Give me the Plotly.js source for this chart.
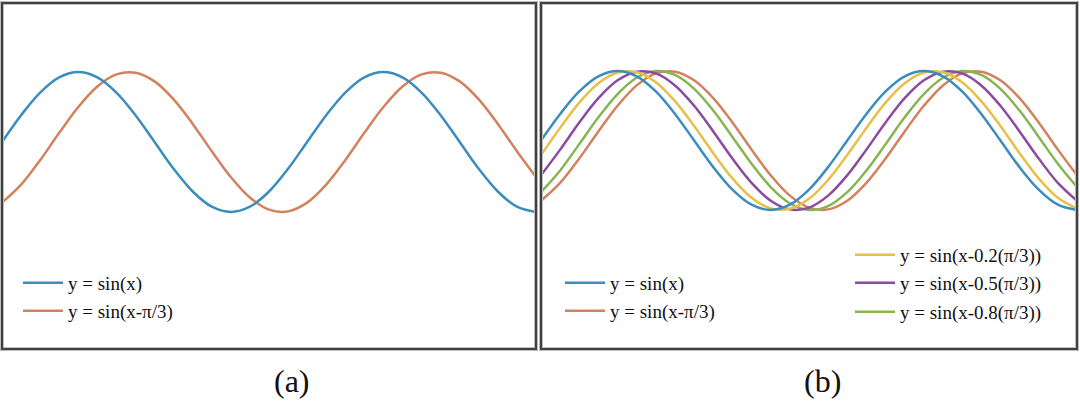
<!DOCTYPE html>
<html>
<head>
<meta charset="utf-8">
<script src="https://cdn.plot.ly/plotly-3.0.1.min.js"></script>
<style>html,body{margin:0;padding:0;background:#fff;}#chart{width:1080px;height:418px;}</style>
</head>
<body>
<div id="chart"></div>
<script>
// x samples (radians), step pi/8 from 0 to 3.5*pi
const xVals = [0, 0.393, 0.785, 1.178, 1.571, 1.963, 2.356, 2.749, 3.142, 3.534, 3.927, 4.320, 4.712, 5.105, 5.498, 5.890, 6.283, 6.676, 7.069, 7.461, 7.854, 8.247, 8.639, 9.032, 9.425, 9.817, 10.210, 10.603, 10.996];
// y = sin(x)
const ySin = [0, 0.383, 0.707, 0.924, 1, 0.924, 0.707, 0.383, 0, -0.383, -0.707, -0.924, -1, -0.924, -0.707, -0.383, 0, 0.383, 0.707, 0.924, 1, 0.924, 0.707, 0.383, 0, -0.383, -0.707, -0.924, -1];
// y = sin(x - pi/3)
const ySinPi3 = [-0.866, -0.609, -0.259, 0.131, 0.5, 0.793, 0.966, 0.991, 0.866, 0.609, 0.259, -0.131, -0.5, -0.793, -0.966, -0.991, -0.866, -0.609, -0.259, 0.131, 0.5, 0.793, 0.966, 0.991, 0.866, 0.609, 0.259, -0.131, -0.5];
// y = sin(x - 0.2(pi/3))
const ySin02 = [-0.208, 0.182, 0.545, 0.824, 0.978, 0.983, 0.839, 0.566, 0.208, -0.182, -0.545, -0.824, -0.978, -0.983, -0.839, -0.566, -0.208, 0.182, 0.545, 0.824, 0.978, 0.983, 0.839, 0.566, 0.208, -0.182, -0.545, -0.824, -0.978];
// y = sin(x - 0.5(pi/3))
const ySin05 = [-0.5, -0.131, 0.259, 0.609, 0.866, 0.991, 0.966, 0.793, 0.5, 0.131, -0.259, -0.609, -0.866, -0.991, -0.966, -0.793, -0.5, -0.131, 0.259, 0.609, 0.866, 0.991, 0.966, 0.793, 0.5, 0.131, -0.259, -0.609, -0.866];
// y = sin(x - 0.8(pi/3))
const ySin08 = [-0.743, -0.431, -0.052, 0.334, 0.669, 0.903, 0.999, 0.943, 0.743, 0.431, 0.052, -0.334, -0.669, -0.903, -0.999, -0.943, -0.743, -0.431, -0.052, 0.334, 0.669, 0.903, 0.999, 0.943, 0.743, 0.431, 0.052, -0.334, -0.669];

const seriesNames = ['y = sin(x)', 'y = sin(x-π/3)', 'y = sin(x-0.2(π/3))', 'y = sin(x-0.5(π/3))', 'y = sin(x-0.8(π/3))'];
const panelCaptions = ['(a)', '(b)'];

const W = 1080, H = 418;
const colBlue = '#3c8dbd', colOrange = '#d2825c', colYellow = '#e6c04a', colPurple = '#8b4b9f', colGreen = '#88b553';
const font = 'Liberation Serif, Times New Roman, serif';

function tr(y, name, color, xa, ya, leg) {
  return {x: xVals, y: y, name: name, type: 'scatter', mode: 'lines',
    line: {color: color, width: 2.5, shape: 'spline', smoothing: 1},
    xaxis: xa, yaxis: ya, legend: leg, hoverinfo: 'skip'};
}

// draw order in panel b: orange under, then green, purple, yellow, blue on top
const data = [
  tr(ySinPi3, seriesNames[1], colOrange, 'x', 'y', 'legend2'),
  tr(ySin, seriesNames[0], colBlue, 'x', 'y', 'legend'),
  tr(ySinPi3, seriesNames[1], colOrange, 'x2', 'y2', 'legend4'),
  tr(ySin08, seriesNames[4], colGreen, 'x2', 'y2', 'legend7'),
  tr(ySin05, seriesNames[3], colPurple, 'x2', 'y2', 'legend6'),
  tr(ySin02, seriesNames[2], colYellow, 'x2', 'y2', 'legend5'),
  tr(ySin, seriesNames[0], colBlue, 'x2', 'y2', 'legend3')
];

function leg(px, py) {
  return {x: px / W, y: 1 - py / H, xanchor: 'left', yanchor: 'middle',
    bgcolor: 'rgba(0,0,0,0)', borderwidth: 0, itemwidth: 40,
    font: {family: font, size: 19, color: '#111'}, itemclick: false, itemdoubleclick: false};
}

const hidden = {showgrid: false, zeroline: false, showticklabels: false, showline: false, ticks: '', fixedrange: true};

const layout = {
  width: W, height: H,
  margin: {l: 0, r: 0, t: 0, b: 0, pad: 0},
  paper_bgcolor: '#fff', plot_bgcolor: 'rgba(0,0,0,0)',
  showlegend: true,
  xaxis: Object.assign({}, hidden, {domain: [2 / W, 536 / W], range: [0, 10.996]}),
  yaxis: Object.assign({}, hidden, {domain: [0, 1], range: [-3.943, 2.029]}),
  xaxis2: Object.assign({}, hidden, {domain: [541 / W, 1077 / W], range: [0, 10.996], anchor: 'y2'}),
  yaxis2: Object.assign({}, hidden, {domain: [0, 1], range: [-3.993, 2.022], anchor: 'x2'}),
  legend: leg(18, 283),
  legend2: leg(18, 311),
  legend3: leg(560, 283),
  legend4: leg(560, 311),
  legend5: leg(850, 255),
  legend6: leg(850, 283),
  legend7: leg(850, 312),
  shapes: [
    {type: 'rect', xref: 'paper', yref: 'paper', x0: 2 / W, x1: 536 / W, y0: 1 - 349 / H, y1: 1 - 3 / H,
      line: {color: '#bdbdbd', width: 4}, layer: 'above'},
    {type: 'rect', xref: 'paper', yref: 'paper', x0: 2 / W, x1: 536 / W, y0: 1 - 349 / H, y1: 1 - 3 / H,
      line: {color: '#404040', width: 2}, layer: 'above'},
    {type: 'rect', xref: 'paper', yref: 'paper', x0: 541 / W, x1: 1077 / W, y0: 1 - 349 / H, y1: 1 - 3 / H,
      line: {color: '#bdbdbd', width: 4}, layer: 'above'},
    {type: 'rect', xref: 'paper', yref: 'paper', x0: 541 / W, x1: 1077 / W, y0: 1 - 349 / H, y1: 1 - 3 / H,
      line: {color: '#404040', width: 2}, layer: 'above'}
  ],
  annotations: [
    {text: panelCaptions[0], xref: 'paper', yref: 'paper', x: 292 / W, y: 1 - 381 / H, xanchor: 'center', yanchor: 'middle',
      showarrow: false, font: {family: font, size: 32, color: '#111'}},
    {text: panelCaptions[1], xref: 'paper', yref: 'paper', x: 822 / W, y: 1 - 381 / H, xanchor: 'center', yanchor: 'middle',
      showarrow: false, font: {family: font, size: 32, color: '#111'}}
  ]
};

Plotly.newPlot('chart', data, layout, {staticPlot: true, displayModeBar: false});
</script>
</body>
</html>
